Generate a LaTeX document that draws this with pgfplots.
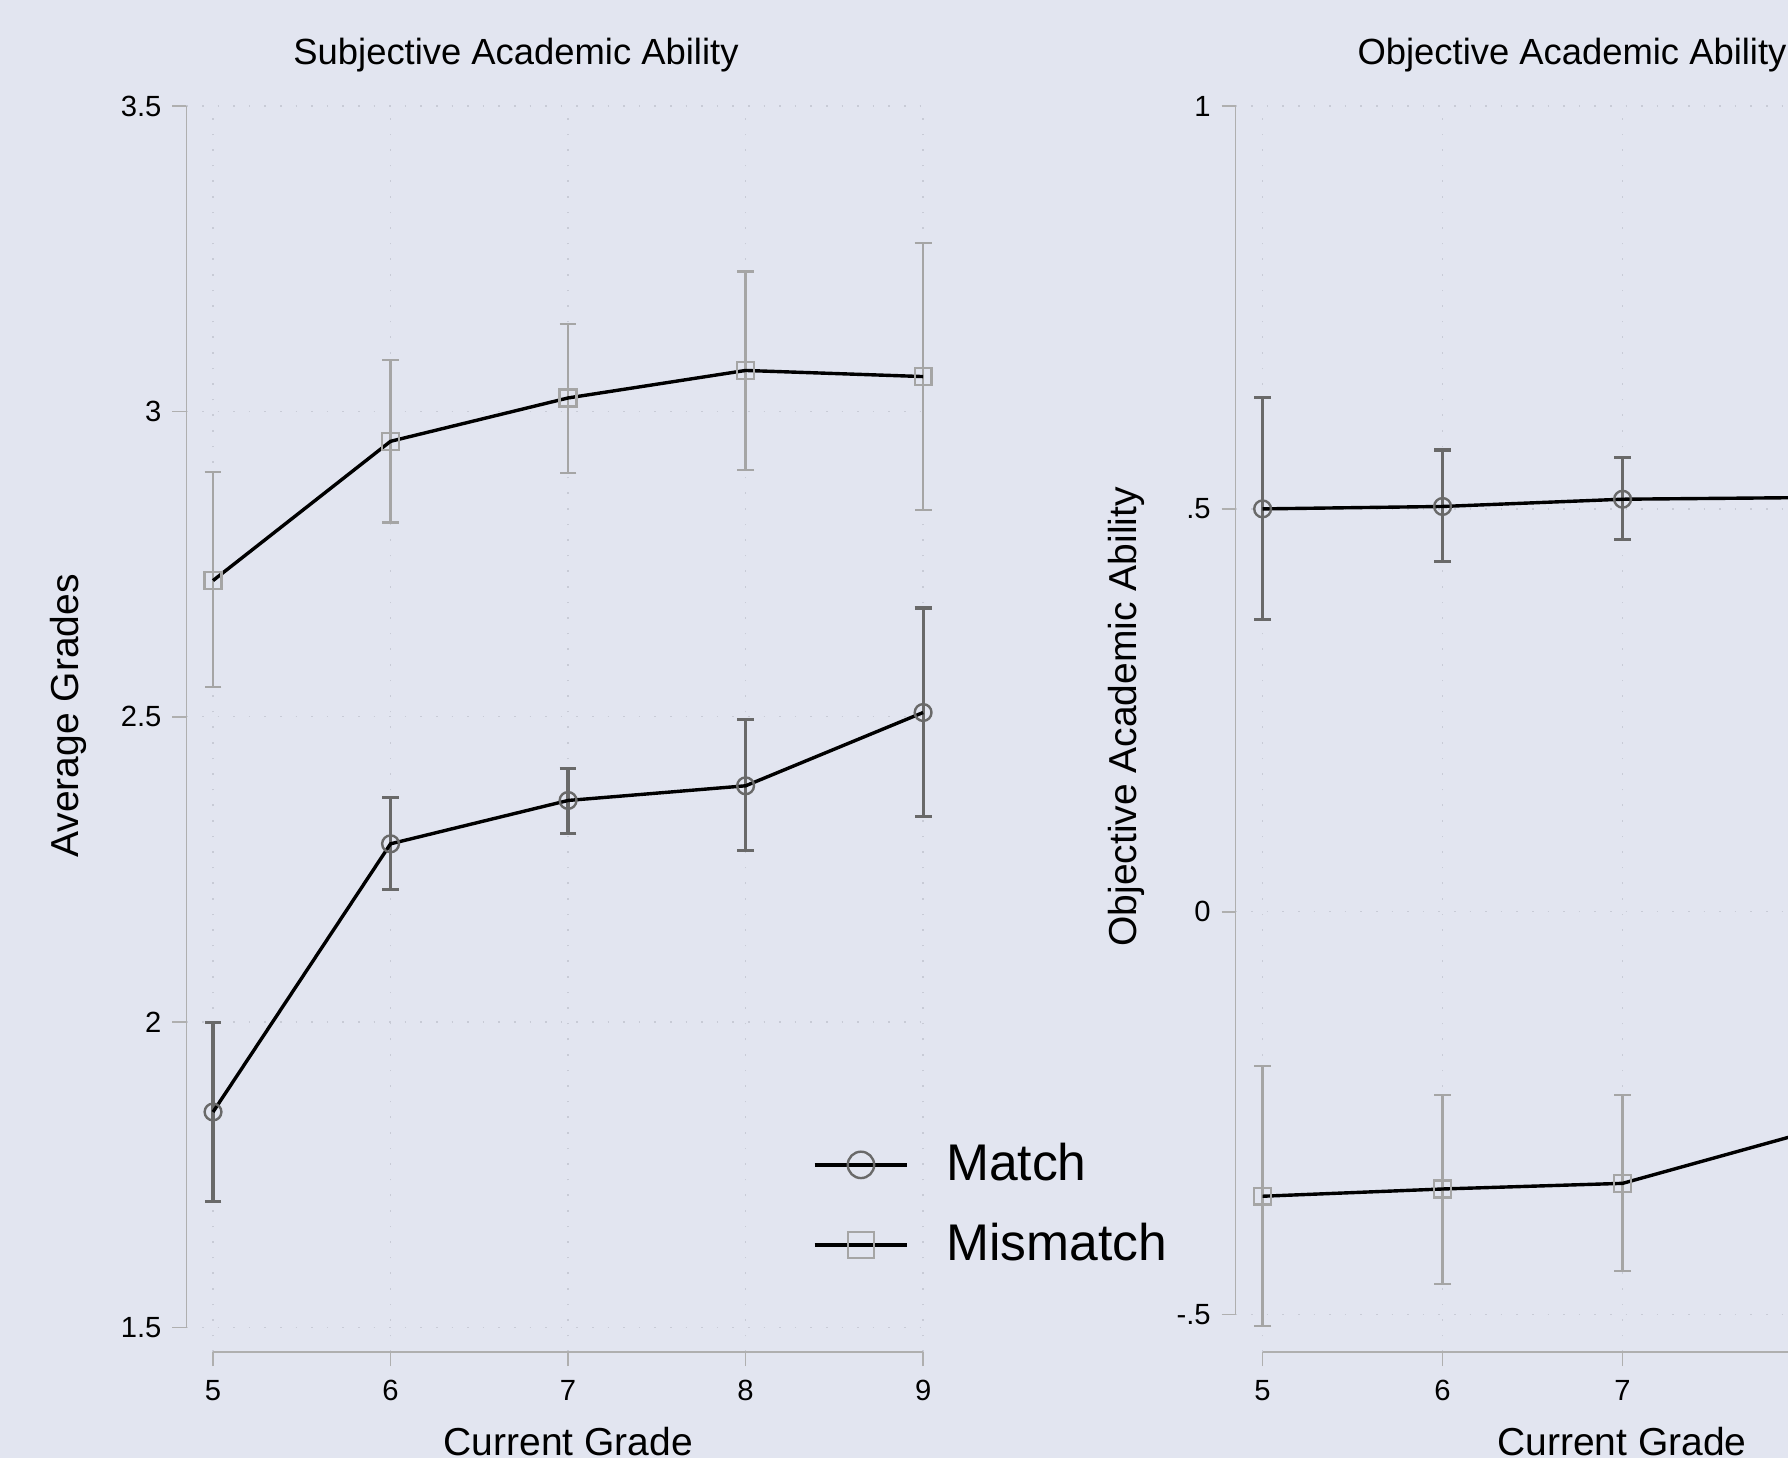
\documentclass[border=0pt]{standalone}
\usepackage{pgfplots}
\pgfplotsset{compat=1.18}
\usepackage{pgfplotstable}
\usepackage{fontspec}
\setmainfont{Liberation Sans}
\definecolor{bgc}{RGB}{226,229,240}
\definecolor{axisgray}{RGB}{175,175,175}
\definecolor{gridc}{RGB}{200,203,214}
\definecolor{matchc}{RGB}{105,105,105}
\definecolor{mismc}{RGB}{165,165,165}

\pgfplotstableread{
x y ep em
5 2.723 0.178 0.174
6 2.951 0.133 0.133
7 3.022 0.121 0.123
8 3.067 0.162 0.163
9 3.057 0.219 0.218
}\subMis
\pgfplotstableread{
x y ep em
5 1.853 0.146 0.146
6 2.292 0.076 0.075
7 2.363 0.052 0.054
8 2.387 0.108 0.106
9 2.507 0.171 0.170
}\subMat
\pgfplotstableread{
x y ep em
5 0.500 0.138 0.137
6 0.503 0.070 0.068
7 0.512 0.052 0.050
8 0.514 0.056 0.054
9 0.520 0.080 0.080
}\objMat
\pgfplotstableread{
x y ep em
5 -0.353 0.1615 0.161
6 -0.344 0.117 0.118
7 -0.337 0.110 0.109
8 -0.275 0.120 0.120
9 -0.250 0.140 0.140
}\objMis

\pgfplotsset{
  stata/.style={
    scale only axis,
    anchor=south west,
    axis lines*=left,
    axis line style={draw=none},
    tick align=outside,
    major tick length=3.5pt,
    tick style={color=axisgray, line width=0.4pt},
    xmin=4.85, xmax=9.05,
    xtick={5,6,7,8,9},
    ticklabel style={font=\fontsize{7.3}{8.5}\selectfont, text=black},
    yticklabel style={xshift=0.8pt},
    grid=major,
    major grid style={color=gridc, line width=0.35pt, dash pattern=on 0.4pt off 3.5pt},
    clip=false,
    height=311.5pt,
  },
  matchbar/.style={draw=none, mark=none, forget plot,
    error bars/y dir=both, error bars/y explicit,
    error bars/error mark options={rotate=90, mark size=2.1pt, line width=0.8pt, color=matchc},
    error bars/error bar style={line width=0.8pt, color=matchc}},
  misbar/.style={draw=none, mark=none, forget plot,
    error bars/y dir=both, error bars/y explicit,
    error bars/error mark options={rotate=90, mark size=2.1pt, line width=0.6pt, color=mismc},
    error bars/error bar style={line width=0.6pt, color=mismc}},
  matchline/.style={black, line width=0.85pt, mark=o, mark size=2.1pt,
    mark options={draw=matchc, fill=none, line width=0.6pt}},
  misline/.style={black, line width=0.85pt, mark=square, mark size=2.1pt,
    mark options={draw=mismc, fill=none, line width=0.6pt}},
}

\begin{document}
\begin{tikzpicture}
\useasboundingbox[fill=bgc] (0pt,0pt) rectangle (447pt,364.5pt);

% ---------- left panel ----------
\begin{axis}[stata,
  at={(46.6pt,26.5pt)},
  width=186.4pt,
  ymin=1.46, ymax=3.5,
  xticklabels={5,6,7,8,9},
  ytick={1.5,2,2.5,3,3.5},
  yticklabels={1.5,2,2.5,3,3.5},
  legend style={at={(axis description cs:0.839,0.118)}, anchor=west,
    draw=none, fill=none, inner sep=0pt,
    font=\fontsize{12.9}{15}\selectfont, row sep=5.2pt},
  legend cell align=left,
  legend image code/.code={%
    \path[draw=none, fill=none] (0pt,-1pt) rectangle (30.9pt,1pt);
    \draw[mark repeat=2,mark phase=2,#1,line width=0.9pt,mark size=3.3pt] plot coordinates {(0pt,0pt) (11.6pt,0pt) (23.2pt,0pt)};},
]
\draw[axisgray, line width=0.4pt] (axis cs:4.85,1.5) -- (axis cs:4.85,3.5);
\draw[axisgray, line width=0.4pt] (axis cs:5,1.46) -- (axis cs:9,1.46);
\addplot[misbar] table[x=x, y=y, y error plus=ep, y error minus=em] {\subMis};
\addplot[matchbar] table[x=x, y=y, y error plus=ep, y error minus=em] {\subMat};
\addplot[matchline] table[x=x, y=y] {\subMat};
\addlegendentry{Match}
\addplot[misline] table[x=x, y=y] {\subMis};
\addlegendentry{Mismatch}
\end{axis}

% ---------- right panel ----------
\begin{axis}[stata,
  at={(308.9pt,26.5pt)},
  width=189pt,
  ymin=-0.5463, ymax=1,
  xticklabels={5,6,7,{},{}},
  ytick={-0.5,0,0.5,1},
  yticklabels={-.5,0,.5,1},
]
\draw[axisgray, line width=0.4pt] (axis cs:4.85,-0.5) -- (axis cs:4.85,1);
\draw[axisgray, line width=0.4pt] (axis cs:5,-0.5463) -- (axis cs:9,-0.5463);
\addplot[misbar] table[x=x, y=y, y error plus=ep, y error minus=em] {\objMis};
\addplot[matchbar] table[x=x, y=y, y error plus=ep, y error minus=em] {\objMat};
\addplot[matchline] table[x=x, y=y] {\objMat};
\addplot[misline] table[x=x, y=y] {\objMis};
\end{axis}

% ---------- titles and labels ----------
\node[font=\fontsize{9.1}{11}\selectfont, anchor=center] at (129pt,350.7pt) {Subjective Academic Ability};
\node[font=\fontsize{9.1}{11}\selectfont, anchor=center] at (393pt,350.7pt) {Objective Academic Ability};
\node[font=\fontsize{9.75}{12}\selectfont, rotate=90, anchor=center] at (17pt,185.5pt) {Average Grades};
\node[font=\fontsize{9.75}{12}\selectfont, rotate=90, anchor=center] at (281.6pt,185.3pt) {Objective Academic Ability};
\node[font=\fontsize{9.75}{12}\selectfont, anchor=base, inner sep=0pt] at (142.1pt,0.6pt) {Current Grade};
\node[font=\fontsize{9.75}{12}\selectfont, anchor=base, inner sep=0pt] at (405.5pt,0.6pt) {Current Grade};
\end{tikzpicture}
\end{document}
